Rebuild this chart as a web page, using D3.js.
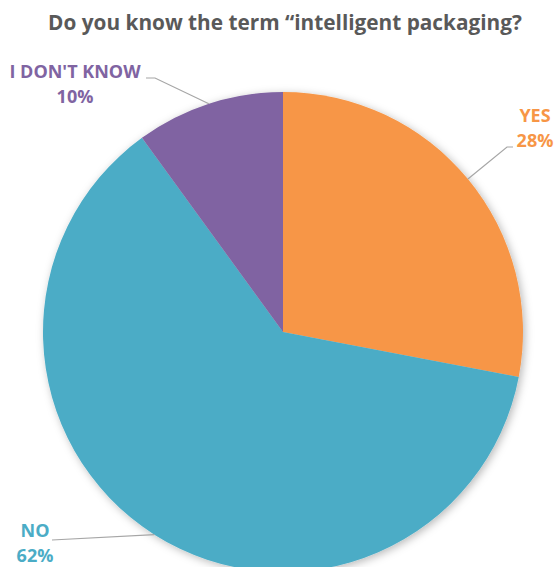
<!DOCTYPE html>
<html><head><meta charset="utf-8">
<script src="https://cdn.jsdelivr.net/npm/d3@7"></script>
<style>body{margin:0;background:#fff;}svg{display:block;}</style>
</head><body>
<svg id="c" width="556" height="567"></svg>
<script>
const categories = ["YES", "NO", "I DON'T KNOW"];
const values = [28, 62, 10];
const labelTexts = ["28%", "62%", "10%"];
const colors = ["#F79646", "#4BACC6", "#8064A2"];
const titleText = "Do you know the term \u201cintelligent packaging?";

const svg = d3.select("#c");
const cx = 283, cy = 332, R = 240;

const defs = svg.append("defs");
const f = defs.append("filter").attr("id","sh").attr("x","-20%").attr("y","-20%").attr("width","140%").attr("height","140%");
f.append("feDropShadow").attr("dx",2).attr("dy",2).attr("stdDeviation",4).attr("flood-color","#000").attr("flood-opacity",0.28);

// title
const title = svg.append("text").attr("x", 285).attr("y", 30).attr("text-anchor","middle")
  .attr("font-family","'Open Sans', 'Noto Sans', sans-serif").attr("font-weight","bold")
  .attr("font-size", 20).attr("fill","#595959").text(titleText);
const tw = title.node().getComputedTextLength();
title.attr("font-size", 20 * 474 / tw);

const pie = d3.pie().sort(null).value(d => d)(values);
const arc = d3.arc().innerRadius(0).outerRadius(R);
const g = svg.append("g").attr("transform", `translate(${cx},${cy})`);
g.append("g").attr("filter","url(#sh)").selectAll("path").data(pie).join("path")
  .attr("d", arc).attr("fill", (d,i) => colors[i]);

// leader lines & labels
const edge = d3.arc().innerRadius(R).outerRadius(R);
const layout = [
  {elbow:[224,-185], end:[230,-185], lab:[252,-210]},
  {elbow:[-231,208], end:[-231,208], lab:[-248,205]},
  {elbow:[-128,-254], end:[-137,-254], lab:[-208,-254]}
];
pie.forEach((d,i) => {
  const p = edge.centroid(d);
  const L = layout[i];
  g.append("polyline").attr("points", [p, L.elbow, L.end].map(q=>q.join(",")).join(" "))
    .attr("fill","none").attr("stroke","#A6A6A6").attr("stroke-width",1.2);
  const t = g.append("text").attr("x", L.lab[0]).attr("y", L.lab[1]).attr("text-anchor", "middle")
    .attr("font-family","'Open Sans', 'Noto Sans', sans-serif").attr("font-weight","bold")
    .attr("font-size", 18).attr("fill", colors[i]);
  t.append("tspan").attr("x", L.lab[0]).attr("dy", 0).text(categories[i]);
  t.append("tspan").attr("x", L.lab[0]).attr("dy", 25).text(labelTexts[i]);
});
</script>
</body></html>
